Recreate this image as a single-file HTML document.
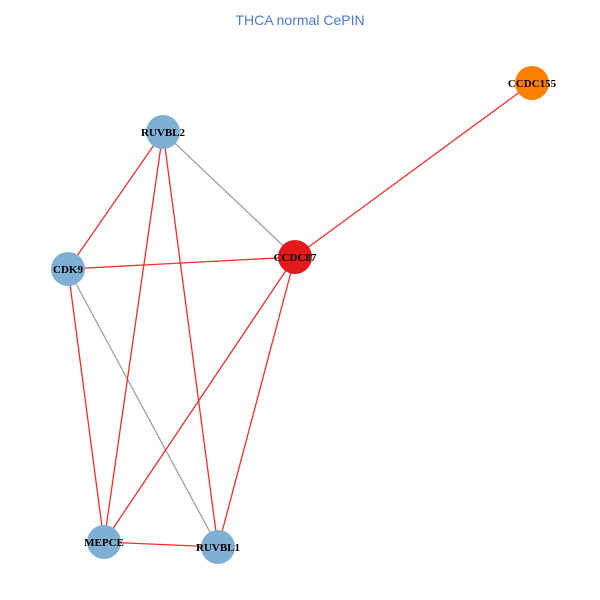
<!DOCTYPE html>
<html><head><style>body{margin:0;background:#fff}svg{display:block}</style></head>
<body>
<svg width="600" height="600" xmlns="http://www.w3.org/2000/svg">
<rect width="600" height="600" fill="#fff"/>
<text x="300" y="25" text-anchor="middle" font-family="Liberation Sans, sans-serif" font-size="14" fill="#4a78e0">THCA normal CePIN</text>
<g stroke-width="1.3">
<line x1="163" y1="132" x2="295" y2="257" stroke="#a0a0a0"/>
<line x1="68" y1="269" x2="218" y2="547" stroke="#a0a0a0"/>
<line x1="163" y1="132" x2="68" y2="269" stroke="#ff2a2a"/>
<line x1="163" y1="132" x2="104" y2="542" stroke="#ff2a2a"/>
<line x1="163" y1="132" x2="218" y2="547" stroke="#ff2a2a"/>
<line x1="68" y1="269" x2="295" y2="257" stroke="#ff2a2a"/>
<line x1="68" y1="269" x2="104" y2="542" stroke="#ff2a2a"/>
<line x1="295" y1="257" x2="104" y2="542" stroke="#ff2a2a"/>
<line x1="295" y1="257" x2="218" y2="547" stroke="#ff2a2a"/>
<line x1="295" y1="257" x2="532" y2="83" stroke="#ff2a2a"/>
<line x1="104" y1="542" x2="218" y2="547" stroke="#ff2a2a"/>
</g>
<g>
<circle cx="163" cy="132" r="17" fill="#7fafd3"/>
<circle cx="68" cy="269" r="17" fill="#7fafd3"/>
<circle cx="104" cy="542" r="17" fill="#7fafd3"/>
<circle cx="218" cy="547" r="17" fill="#7fafd3"/>
<circle cx="295" cy="257" r="17" fill="#e31a1c"/>
<circle cx="532" cy="83" r="17" fill="#ff7f00"/>
</g>
<g font-family="Liberation Serif, serif" font-weight="bold" font-size="11" text-anchor="middle" fill="#000">
<text x="163" y="136">RUVBL2</text>
<text x="68" y="273">CDK9</text>
<text x="104" y="546">MEPCE</text>
<text x="218" y="551">RUVBL1</text>
<text x="295" y="261">CCDC87</text>
<text x="532" y="87">CCDC155</text>
</g>
</svg>
</body></html>
